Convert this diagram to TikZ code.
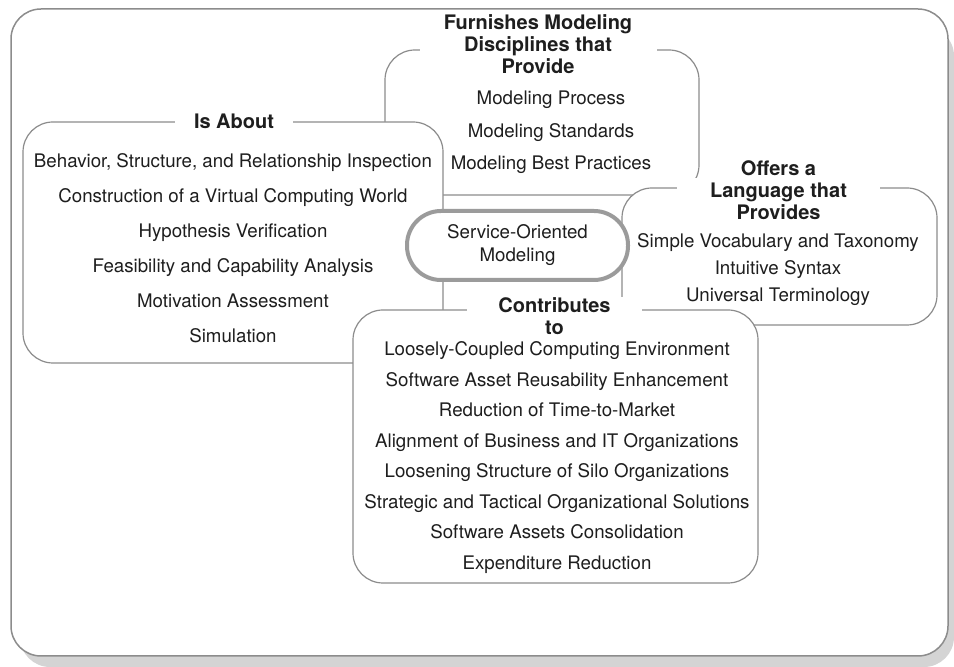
\documentclass[tikz,border=0pt]{standalone}
\usepackage{fontspec}
\setmainfont{TeX Gyre Heros}
\definecolor{linegray}{HTML}{8C8C8C}
\definecolor{ringgray}{HTML}{9B9B9B}
\definecolor{textgray}{HTML}{1E1E1E}
\definecolor{shadowgray}{HTML}{D4D4D4}

\begin{document}
\begin{tikzpicture}[x=0.5pt, y=-0.5pt,
    group_box/.style={draw=linegray, line width=0.6pt, fill=white, rounded corners=15pt, inner sep=0pt},
    title_node/.style={fill=white, align=center, inner sep=0pt, text=textgray, font=\fontsize{10}{11}\selectfont\bfseries},
    item_list/.style={align=center, inner sep=0pt, text=textgray, font=\fontsize{9.35}{#1}\selectfont},
    main_node/.style={draw=ringgray, line width=2pt, fill=white, rounded corners=17pt, align=center, inner sep=0pt, text=textgray, font=\fontsize{9.35}{11.5}\selectfont}]
    \useasboundingbox (0,0) rectangle (954,667);
    \fill[shadowgray, rounded corners=15pt] (20,26) rectangle (954,667);
    \draw[linegray, line width=0.75pt, fill=white, rounded corners=15pt] (11,9) rectangle (948,656);

    \node[group_box, minimum width=157pt, minimum height=72.5pt] (furnish) at (542,122.5) {};
    \node[title_node, minimum width=118.5pt] (furnish_t) at (538,44) {Furnishes Modeling\\Disciplines that\\Provide};
    \node[item_list=16.25pt] (furnish_i) at (551,132.5) {Modeling Process\\Modeling Standards\\Modeling Best Practices};

    \node[group_box, minimum width=210pt, minimum height=120.5pt] (about) at (233,242.5) {};
    \node[title_node, minimum width=59pt, minimum height=8pt] (about_t) at (234,121) {Is About};
    \node[item_list=17.5pt] (about_i) at (233,248.5) {Behavior, Structure, and Relationship Inspection\\Construction of a Virtual Computing World\\Hypothesis Verification\\Feasibility and Capability Analysis\\Motivation Assessment\\Simulation};

    \node[group_box, minimum width=157.5pt, minimum height=68.5pt] (lang) at (779.5,256.5) {};
    % white patch only under the two lower title lines
    \fill[white] (677,178) rectangle (880,226);
    \node[title_node, fill=none] (lang_t) at (778.5,190) {Offers a\\Language that\\Provides};
    \node[item_list=13.5pt] (lang_i) at (778,270) {Simple Vocabulary and Taxonomy\\Intuitive Syntax\\Universal Terminology};

    \node[group_box, minimum width=202.5pt, minimum height=136.5pt] (contrib) at (555.5,446.5) {};
    \node[title_node, minimum width=87.5pt] (contrib_t) at (554.5,316) {Contributes\\to};
    \node[item_list=15.25pt] (contrib_i) at (557,457.5) {Loosely-Coupled Computing Environment\\Software Asset Reusability Enhancement\\Reduction of Time-to-Market\\Alignment of Business and IT Organizations\\Loosening Structure of Silo Organizations\\Strategic and Tactical Organizational Solutions\\Software Assets Consolidation\\Expenditure Reduction};

    \node[main_node, minimum width=110.5pt, minimum height=34.5pt] (som) at (517.5,245.5) {Service-Oriented\\Modeling};
\end{tikzpicture}
\end{document}
